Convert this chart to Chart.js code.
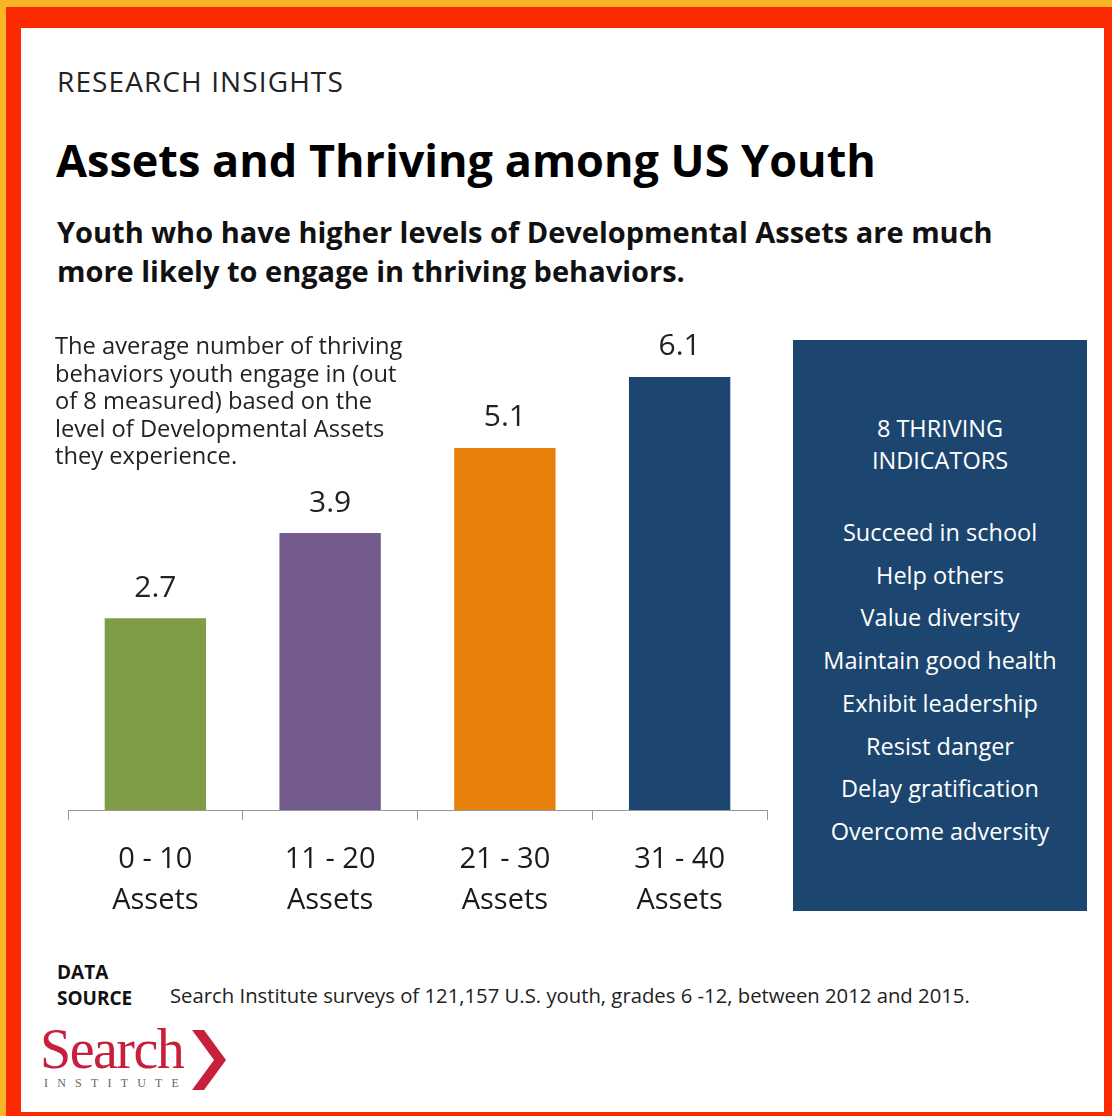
<!DOCTYPE html>
<html>
<head>
<meta charset="utf-8">
<script src="https://cdn.jsdelivr.net/npm/chart.js@4/dist/chart.umd.min.js"></script>
<style>
  html, body { margin: 0; padding: 0; }
  body { width: 1112px; height: 1116px; position: relative; overflow: hidden; background: #f9b524; font-family: "Open Sans", sans-serif; color: #111; }
  #red { position: absolute; left: 6px; top: 7px; right: 0; bottom: 0; background: #fc2a00; }
  #white { position: absolute; left: 21px; top: 28px; width: 1083px; height: 1084px; background: #fff; }
  .t { position: absolute; white-space: nowrap; }
  #kicker { left: 57px; top: 61px; font-size: 28px; line-height: 40px; letter-spacing: 1.1px; color: #222; }
  #title { left: 56px; top: 128px; font-size: 45px; line-height: 64px; font-weight: 700; color: #000; }
  #sub { left: 57px; top: 212px; font-size: 29px; font-weight: 700; line-height: 39px; color: #111; }
  #desc { left: 55px; top: 332px; font-size: 23.7px; line-height: 27.5px; color: #222; }
  #chartBox { position: absolute; left: 40px; top: 290px; width: 740px; height: 650px; }
  #panel { position: absolute; left: 793px; top: 340px; width: 294px; height: 571px; background: #1c4670; color: #fff; }
  #panel .t { left: 0; right: 0; text-align: center; font-size: 23.5px; line-height: 32px; }
  #ds1 { left: 57px; top: 959px; font-size: 19px; font-weight: 700; line-height: 26px; color: #111; }
  #ds2 { left: 170px; top: 981px; font-size: 20.3px; line-height: 28px; color: #222; }
  #logo { left: 40px; top: 1014px; font-family: "Liberation Serif", "DejaVu Serif", serif; font-size: 56px; line-height: 70px; color: #c8203c; letter-spacing: -1.5px; }
  #inst { left: 44px; top: 1076px; font-family: "Liberation Serif", serif; font-size: 12px; color: #666; letter-spacing: 9.2px; }
</style>
</head>
<body>
<div id="red"></div>
<div id="white"></div>
<div class="t" id="kicker">RESEARCH INSIGHTS</div>
<div class="t" id="title">Assets and Thriving among US Youth</div>
<div class="t" id="sub">Youth who have higher levels of Developmental Assets are much<br>more likely to engage in thriving behaviors.</div>
<div id="chartBox"><canvas id="c"></canvas></div>
<div class="t" id="desc">The average number of thriving<br>behaviors youth engage in (out<br>of 8 measured) based on the<br>level of Developmental Assets<br>they experience.</div>
<div id="panel"></div>
<div class="t" id="ds1">DATA<br>SOURCE</div>
<div class="t" id="ds2">Search Institute surveys of 121,157 U.S. youth, grades 6 -12, between 2012 and 2015.</div>
<div class="t" id="logo">Search</div>
<svg style="position:absolute;left:188px;top:1028px" width="44" height="64"><polygon points="4,2 16,2 38,32 16,62 4,62 26,32" fill="#c8203c"/></svg>
<div class="t" id="inst">INSTITUTE</div>
<script>
const categories = [["0 - 10", "Assets"], ["11 - 20", "Assets"], ["21 - 30", "Assets"], ["31 - 40", "Assets"]];
const values = [2.7, 3.9, 5.1, 6.1];
const barColors = ["#7f9c47", "#735b8e", "#e8800c", "#1c4670"];
const valueLabels = ["2.7", "3.9", "5.1", "6.1"];
const panelHeading = ["8 THRIVING", "INDICATORS"];
const indicators = ["Succeed in school", "Help others", "Value diversity", "Maintain good health", "Exhibit leadership", "Resist danger", "Delay gratification", "Overcome adversity"];

// right panel text
const panel = document.getElementById('panel');
panelHeading.forEach((s, i) => {
  const d = document.createElement('div');
  d.className = 't';
  d.style.top = (72 + i * 32) + 'px';
  d.textContent = s; panel.appendChild(d);
});
indicators.forEach((s, i) => {
  const d = document.createElement('div');
  d.className = 't';
  d.style.top = (176 + i * 42.7) + 'px';
  d.textContent = s; panel.appendChild(d);
});

const valuePlugin = {
  id: 'valueLabels',
  afterDatasetsDraw(chart) {
    const ctx = chart.ctx;
    const meta = chart.getDatasetMeta(0);
    ctx.save();
    ctx.font = '30px "Open Sans", sans-serif';
    ctx.fillStyle = '#222';
    ctx.textAlign = 'center';
    ctx.textBaseline = 'middle';
    meta.data.forEach((bar, i) => {
      ctx.fillText(valueLabels[i], bar.x, bar.y - 30);
    });
    ctx.restore();
  }
};

new Chart(document.getElementById('c'), {
  type: 'bar',
  data: {
    labels: categories,
    datasets: [{ data: values, backgroundColor: barColors, borderWidth: 0, categoryPercentage: 0.58, barPercentage: 1.0 }]
  },
  options: {
    responsive: true,
    maintainAspectRatio: false,
    animation: false,
    layout: { padding: { left: 28, right: 13, top: 23, bottom: 0 } },
    plugins: { legend: { display: false }, tooltip: { enabled: false } },
    scales: {
      y: { display: false, min: 0, max: 7 },
      x: {
        offset: true,
        grid: { display: true, drawOnChartArea: false, drawTicks: true, tickLength: 10, color: '#999', offset: true },
        border: { display: true, color: '#999', width: 1 },
        ticks: { color: '#1a1a1a', font: { family: '"Open Sans", sans-serif', size: 29, lineHeight: 1.41 }, padding: 19, maxRotation: 0 },
        afterFit(scale) { scale.height = 130; }
      }
    }
  },
  plugins: [valuePlugin]
});
</script>
</body>
</html>
